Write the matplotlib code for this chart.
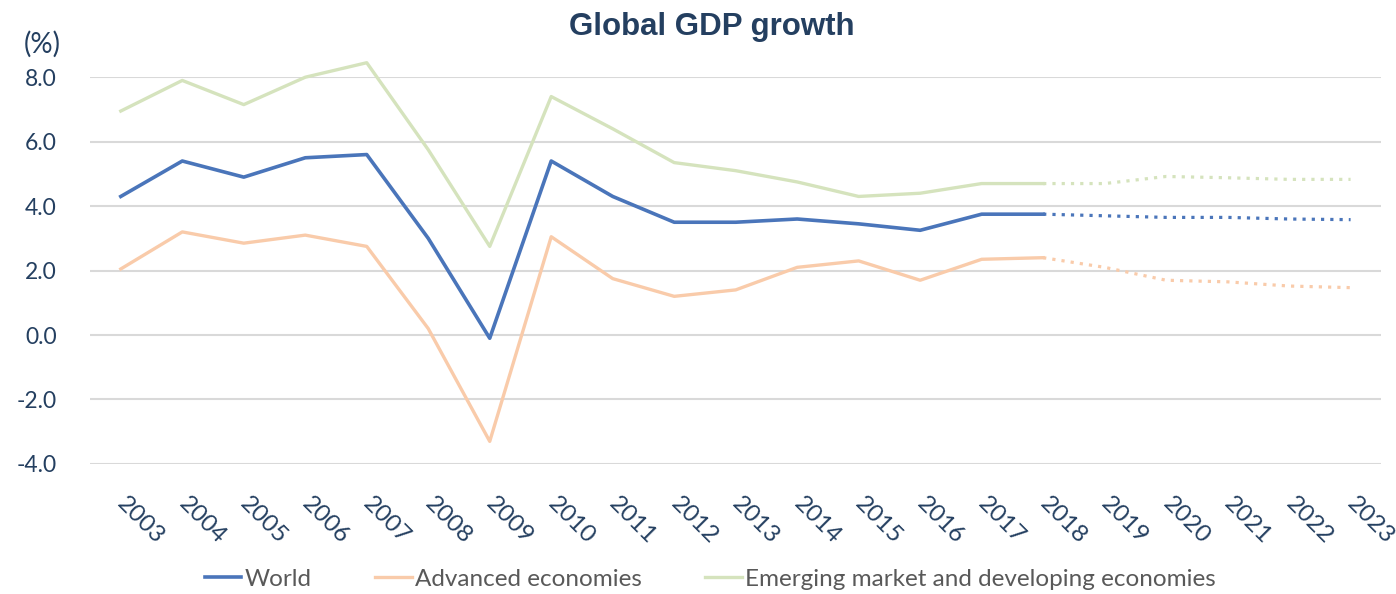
import matplotlib.pyplot as plt
import numpy as np

years = [str(y) for y in range(2003, 2024)]

# actuals 2003-2018
world = [4.3, 5.4, 4.9, 5.5, 5.6, 3.0, -0.1, 5.4, 4.3, 3.5, 3.5, 3.6, 3.45, 3.25, 3.75, 3.75]
advanced = [2.05, 3.2, 2.85, 3.1, 2.75, 0.2, -3.3, 3.05, 1.75, 1.2, 1.4, 2.1, 2.3, 1.7, 2.35, 2.4]
emerging = [6.95, 7.9, 7.15, 8.0, 8.45, 5.75, 2.75, 7.4, 6.4, 5.35, 5.1, 4.75, 4.3, 4.4, 4.7, 4.7]

# projections 2018-2023
world_fc = [3.75, 3.7, 3.65, 3.65, 3.6, 3.58]
advanced_fc = [2.4, 2.1, 1.7, 1.65, 1.52, 1.47]
emerging_fc = [4.7, 4.7, 4.92, 4.88, 4.83, 4.83]

c_world = "#4A75BA"
c_adv = "#F9CBAA"
c_em = "#D5E3BD"
txt = "#243F60"

fig = plt.figure(figsize=(13.96, 5.94), dpi=100)
ax = fig.add_axes([0.0645, 0.219, 0.925, 0.651])

x = np.arange(len(years))
x_act = x[:len(world)]
x_fc = x[len(world) - 1:]

ax.plot(x_act, emerging, color=c_em, lw=2.4, clip_on=False,
        label="Emerging market and developing economies", zorder=3)
ax.plot(x_act, advanced, color=c_adv, lw=2.4, clip_on=False,
        label="Advanced economies", zorder=3)
ax.plot(x_act, world, color=c_world, lw=2.6, clip_on=False, label="World", zorder=4)

for vals, col in [(emerging_fc, c_em), (advanced_fc, c_adv), (world_fc, c_world)]:
    ax.plot(x_fc, vals, color=col, lw=2.3, linestyle=(0, (1, 1.9)), clip_on=False, zorder=3)

ax.set_xlim(-0.5, len(years) - 0.5)
ax.set_ylim(-4, 8)
ax.set_yticks(np.arange(-4, 9, 2))
ax.set_yticklabels([f"{v:.1f}" for v in np.arange(-4, 9, 2)])
ax.yaxis.grid(True, color="#D9D9D9", lw=1.5)
ax.set_axisbelow(True)
for s in ax.spines.values():
    s.set_visible(False)
ax.tick_params(length=0)
ax.tick_params(axis="y", labelsize=16.5, labelcolor=txt, pad=24)

ax.set_xticks(x)
ax.set_xticklabels(years, rotation=-45, rotation_mode="anchor", ha="left", va="center",
                   fontsize=17.5, color=txt)
ax.tick_params(axis="x", pad=26)

for lab in ax.get_xticklabels() + ax.get_yticklabels():
    lab.set_family("Lato")

fig.text(0.51, 0.955, "Global GDP growth", ha="center", va="center",
         fontsize=22.5, fontweight="bold", color=txt, family="Liberation Sans")
fig.text(0.017, 0.925, "(%)", ha="left", va="center", fontsize=20, color=txt, family="Lato")

handles, labels = ax.get_legend_handles_labels()
order = [2, 1, 0]
leg = fig.legend([handles[i] for i in order], [labels[i] for i in order],
                 loc="center", bbox_to_anchor=(0.509, 0.025), ncol=3, frameon=False,
                 handlelength=1.5, handletextpad=0.15, columnspacing=2.6,
                 prop={"family": "Lato", "size": 17.5})
for t in leg.get_texts():
    t.set_color("#595959")

fig.savefig("out.png", dpi=100)
